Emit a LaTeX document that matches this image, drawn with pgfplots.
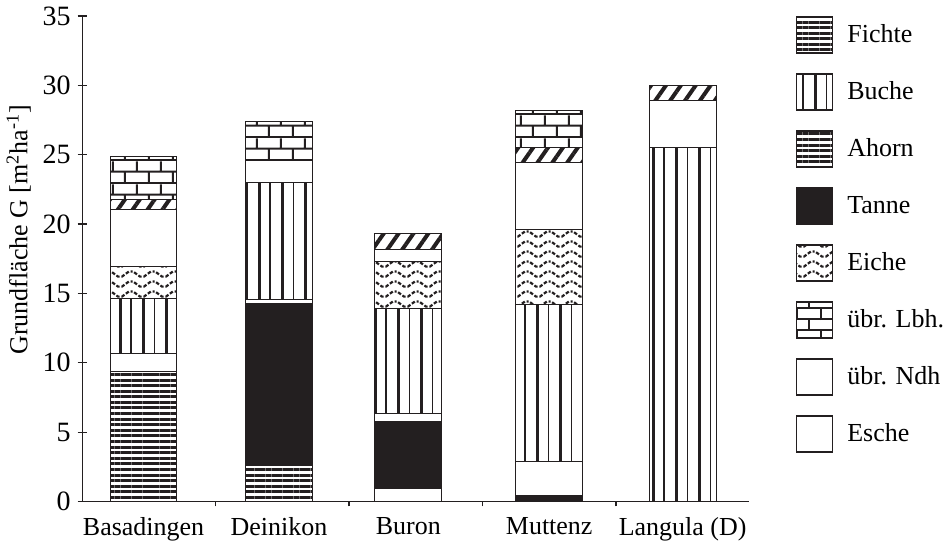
\documentclass[border=0pt]{standalone}
\usepackage{fontspec}
\setmainfont{Liberation Serif}
\usepackage{pgfplots}
\pgfplotsset{compat=1.18}
\usetikzlibrary{patterns,patterns.meta}
\definecolor{dk}{HTML}{231F20}

\tikzdeclarepattern{name=buche, type=uncolored,
  bottom left={(0pt,-0.5pt)}, top right={(11.6pt,1.5pt)}, tile size={(11.6pt,1pt)},
  code={\fill (1.5pt,-0.5pt) rectangle (3.0pt,1.5pt); \fill (7.3pt,-0.5pt) rectangle (7.9pt,1.5pt);}}
\tikzdeclarepattern{name=eiche, type=uncolored,
  bottom left={(0pt,0pt)}, top right={(11pt,5pt)}, tile size={(11pt,5pt)},
  code={\draw[line width=1.1pt, dash pattern=on 1.8pt off 0.9pt] (-1pt,3.8pt)--(1pt,3.8pt)--(4.5pt,1.2pt)--(6.5pt,1.2pt)--(10pt,3.8pt)--(12pt,3.8pt);}}
\tikzdeclarepattern{name=brick, type=uncolored,
  bottom left={(0pt,0pt)}, top right={(12pt,11.4pt)}, tile size={(12pt,11.4pt)},
  code={\draw[line width=1pt] (-1pt,0.5pt)--(13pt,0.5pt) (-1pt,6.2pt)--(13pt,6.2pt) (3pt,0pt)--(3pt,6.2pt) (9pt,6.2pt)--(9pt,11.4pt);}}

\begin{document}
\begin{tikzpicture}
\begin{axis}[
  scale only axis, width=334pt, height=243pt,
  xmin=-0.5, xmax=4.5, ymin=0, ymax=35,
  axis lines*=left,
  axis line style={line width=0.6pt, dk},
  ybar stacked, bar width=0.5,
  xtick={-0.04,0.975,1.944,3,4},
  xticklabels={Basadingen,Deinikon,Buron,Muttenz,Langula (D)},
  major x tick style={draw=none},
  minor xtick={0.5,1.5,2.5,3.5},
  minor tick length=2.5pt,
  xtick align=outside,
  ytick={0,5,...,35},
  ytick align=center,
  major tick length=4.5pt,
  tick style={dk, line width=0.6pt},
  /pgf/number format/assume math mode=true,
  xticklabel style={font=\fontsize{13}{15}\selectfont},
  yticklabel style={font=\fontsize{14}{16}\selectfont},
  ylabel={Grundfläche G [m\textsuperscript{2}ha\textsuperscript{-1}]},
  ylabel style={font=\fontsize{13}{15}\selectfont, at={(axis description cs:-0.095,0.56)}, anchor=center},
  legend image code/.code={\draw[#1] (0pt,-9pt) rectangle (18pt,9pt);},
  legend style={at={(axis description cs:1.069,1.0)}, anchor=north west, draw=none, fill=none,
    row sep=9.7pt, font=\fontsize{13}{15}\selectfont, inner sep=0pt,
    /tikz/every odd column/.style={column sep=5pt}},
  legend cell align=left,
]
% Fichte (horizontal lines)
\addplot[forget plot, draw=dk, line width=0.5pt, pattern={Lines[distance=2.8pt,line width=1.5pt]}, pattern color=dk]
  coordinates {(-0.04,9.35) (0.975,2.6) (1.944,0) (3,0) (4,0)};
% white (bottom)
\addplot[forget plot, draw=dk, line width=0.5pt, fill=white]
  coordinates {(-0.04,0) (0.975,0) (1.944,0.9) (3,0) (4,0)};
% Tanne (black)
\addplot[forget plot, draw=dk, line width=0.5pt, fill=dk]
  coordinates {(-0.04,0) (0.975,11.65) (1.944,4.85) (3,0.45) (4,0)};
% white
\addplot[forget plot, draw=dk, line width=0.5pt, fill=white]
  coordinates {(-0.04,1.3) (0.975,0.3) (1.944,0.6) (3,2.45) (4,0)};
% Buche (vertical lines)
\addplot[forget plot, draw=dk, line width=0.5pt, pattern=buche, pattern color=dk]
  coordinates {(-0.04,3.95) (0.975,8.43) (1.944,7.56) (3,11.29) (4,25.54)};
% Eiche (wavy)
\addplot[forget plot, draw=dk, line width=0.5pt, pattern=eiche, pattern color=dk]
  coordinates {(-0.04,2.35) (0.975,0) (1.944,3.4) (3,5.42) (4,0)};
% white
\addplot[forget plot, draw=dk, line width=0.5pt, fill=white]
  coordinates {(-0.04,4.08) (0.975,1.6) (1.944,0.87) (3,4.8) (4,3.36)};
% diagonal
\addplot[forget plot, draw=dk, line width=0.5pt, pattern={Lines[angle=55,distance=6.1pt,line width=2pt]}, pattern color=dk]
  coordinates {(-0.04,0.74) (0.975,0) (1.944,1.13) (3,1.13) (4,1.08)};
% übr. Lbh. (brick)
\addplot[forget plot, draw=dk, line width=0.5pt, pattern=brick, pattern color=dk]
  coordinates {(-0.04,3.13) (0.975,2.8) (1.944,0) (3,2.64) (4,0)};

\addlegendimage{draw=dk, line width=0.8pt, pattern={Lines[distance=2.8pt,line width=1.5pt]}, pattern color=dk}
\addlegendentry{Fichte}
\addlegendimage{draw=dk, line width=0.8pt, pattern=buche, pattern color=dk}
\addlegendentry{Buche}
\addlegendimage{draw=dk, line width=0.8pt, pattern={Lines[distance=2.8pt,line width=1.5pt]}, pattern color=dk}
\addlegendentry{Ahorn}
\addlegendimage{draw=dk, line width=0.8pt, fill=dk}
\addlegendentry{Tanne}
\addlegendimage{draw=dk, line width=0.8pt, pattern=eiche, pattern color=dk}
\addlegendentry{Eiche}
\addlegendimage{draw=dk, line width=0.8pt, pattern=brick, pattern color=dk}
\addlegendentry{übr. Lbh.}
\addlegendimage{draw=dk, line width=0.8pt, fill=white}
\addlegendentry{übr. Ndh}
\addlegendimage{draw=dk, line width=0.8pt, fill=white}
\addlegendentry{Esche}
\end{axis}
\end{tikzpicture}
\end{document}
